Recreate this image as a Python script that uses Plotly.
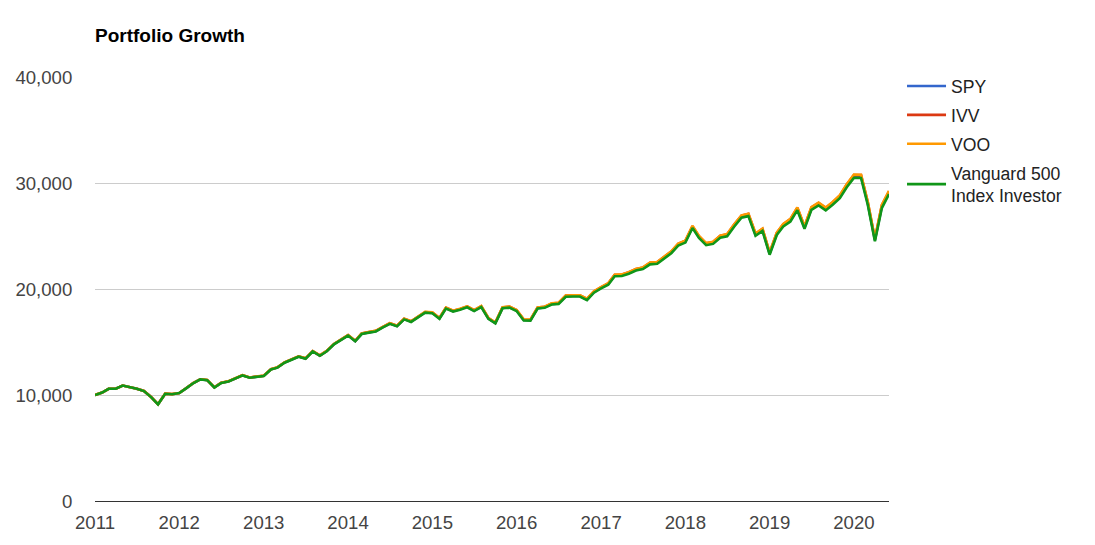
import plotly.graph_objects as go
import pandas as pd

months = pd.date_range("2011-01-01", periods=114, freq="MS")

spy = [10000, 10232, 10587, 10587, 10894, 10771, 10588, 10376, 9805, 9123, 10119, 10077,
       10181, 10653, 11116, 11479, 11402, 10716, 11150, 11281, 11562, 11855, 11639, 11704,
       11810, 12422, 12590, 13062, 13313, 13623, 13440, 14123, 13713, 14142, 14792, 15243,
       15627, 15085, 15774, 15906, 16023, 16398, 16736, 16505, 17161, 16919, 17331, 17796,
       17750, 17223, 18191, 17905, 18079, 18312, 17958, 18333, 17214, 16788, 18216, 18283,
       17967, 17074, 17052, 18197, 18266, 18576, 18640, 19320, 19341, 19342, 19007, 19705,
       20104, 20463, 21266, 21290, 21500, 21801, 21939, 22390, 22454, 22915, 23448, 24164,
       24456, 25834, 24892, 24209, 24333, 24916, 25058, 25984, 26811, 26968, 25103, 25567,
       23318, 25185, 25999, 26468, 27539, 25780, 27573, 27987, 27519, 28054, 28673, 29709,
       30605, 30592, 28070, 24601, 27753, 29072]

ivv = [10000, 10233, 10588, 10589, 10896, 10773, 10591, 10379, 9808, 9127, 10123, 10082,
       10187, 10660, 11123, 11487, 11410, 10724, 11159, 11291, 11573, 11867, 11651, 11716,
       11823, 12436, 12605, 13078, 13330, 13641, 13458, 14143, 13733, 14164, 14815, 15267,
       15653, 15111, 15801, 15934, 16052, 16429, 16768, 16537, 17195, 16954, 17368, 17834,
       17789, 17262, 18233, 17947, 18122, 18356, 18002, 18380, 17258, 16832, 18264, 18332,
       18016, 17122, 17100, 18249, 18320, 18632, 18697, 19379, 19402, 19404, 19068, 19769,
       20171, 20531, 21338, 21363, 21575, 21878, 22018, 22472, 22536, 23001, 23536, 24256,
       24550, 25935, 24990, 24306, 24431, 25018, 25162, 26093, 26925, 27084, 25212, 25679,
       23421, 25297, 26116, 26589, 27666, 25900, 27702, 28120, 27651, 28190, 28813, 29856,
       30758, 30745, 28212, 24727, 27896, 29224]

voo = [10000, 10233, 10588, 10589, 10896, 10774, 10592, 10380, 9809, 9128, 10124, 10083,
       10188, 10661, 11124, 11489, 11412, 10726, 11161, 11293, 11575, 11869, 11653, 11719,
       11826, 12439, 12608, 13081, 13333, 13645, 13462, 14147, 13737, 14168, 14820, 15272,
       15658, 15116, 15807, 15940, 16058, 16435, 16775, 16544, 17202, 16961, 17375, 17842,
       17797, 17270, 18241, 17955, 18131, 18365, 18011, 18389, 17267, 16841, 18274, 18342,
       18026, 17132, 17110, 18260, 18331, 18643, 18708, 19391, 19414, 19416, 19080, 19782,
       20184, 20545, 21352, 21378, 21590, 21894, 22034, 22488, 22553, 23018, 23554, 24275,
       24569, 25955, 25010, 24325, 24451, 25038, 25183, 26115, 26948, 27107, 25234, 25701,
       23442, 25320, 26140, 26613, 27691, 25924, 27728, 28147, 27677, 28217, 28841, 29885,
       30788, 30776, 28240, 24752, 27925, 29254]

vfinx = [10000, 10232, 10586, 10586, 10892, 10769, 10586, 10373, 9802, 9120, 10115, 10073,
         10177, 10648, 11110, 11473, 11395, 10709, 11143, 11273, 11554, 11846, 11629, 11694,
         11800, 12410, 12578, 13049, 13299, 13609, 13425, 14107, 13697, 14125, 14774, 15223,
         15606, 15065, 15752, 15883, 15999, 16373, 16710, 16479, 17133, 16891, 17302, 17765,
         17719, 17192, 18157, 17871, 18045, 18276, 17922, 18296, 17178, 16753, 18177, 18243,
         17927, 17036, 17013, 18155, 18223, 18532, 18595, 19272, 19293, 19293, 18958, 19653,
         20051, 20408, 21208, 21231, 21440, 21739, 21876, 22325, 22388, 22847, 23377, 24090,
         24380, 25753, 24813, 24131, 24254, 24834, 24975, 25897, 26720, 26875, 25016, 25477,
         23236, 25095, 25905, 26371, 27437, 25684, 27469, 27881, 27413, 27945, 28561, 29592,
         30483, 30469, 27956, 24501, 27639, 28950]

series_names = ["SPY", "IVV", "VOO", "Vanguard 500<br>Index Investor"]
series_values = [spy, ivv, voo, vfinx]
colors = ["#3366cc", "#dc3912", "#ff9900", "#109618"]

year_ticks = pd.date_range("2011-01-01", "2020-01-01", freq="YS")
year_labels = [str(d.year) for d in year_ticks]
y_ticks = [0, 10000, 20000, 30000, 40000]
y_labels = ["0", "10,000", "20,000", "30,000", "40,000"]

fig = go.Figure()
for name, vals, col in zip(series_names, series_values, colors):
    fig.add_trace(go.Scatter(x=months, y=vals, mode="lines", name=name, legendgroup=name,
                             line=dict(color=col, width=2.6)))

W, H = 1079, 529
L, T = 87, 69
PW, PH = 794, 424
font_family = "Arial, Liberation Sans, sans-serif"
fig.update_layout(
    width=W, height=H,
    margin=dict(l=L, r=W - L - PW, t=T, b=H - T - PH, autoexpand=False),
    paper_bgcolor="white", plot_bgcolor="white",
    font=dict(family=font_family, size=18.6, color="#444444"),
    title=dict(text="<b>Portfolio Growth</b>", x=L / W, xanchor="left",
               y=1 - 27 / H, yanchor="middle", yref="container", xref="container",
               font=dict(size=19, color="#000000", family=font_family)),
    showlegend=True,
    legend=dict(x=1.0164, y=1.021, xanchor="left", yanchor="top",
                font=dict(size=17.6, color="#222222"), bgcolor="rgba(0,0,0,0)",
                tracegroupgap=3, itemwidth=39),
    xaxis=dict(range=[months[0], months[-1]], tickvals=list(year_ticks), ticktext=year_labels,
               showgrid=False, zeroline=False, showline=True, linecolor="#333333", linewidth=1,
               ticks="outside", ticklen=5, tickcolor="rgba(0,0,0,0)", automargin=False),
    yaxis=dict(range=[0, 40000], tickvals=y_ticks, ticktext=y_labels,
               showgrid=True, gridcolor="#cccccc", gridwidth=1, zeroline=False,
               ticks="outside", ticklen=18, tickcolor="rgba(0,0,0,0)", automargin=False),
)

fig.write_html("out.html")
